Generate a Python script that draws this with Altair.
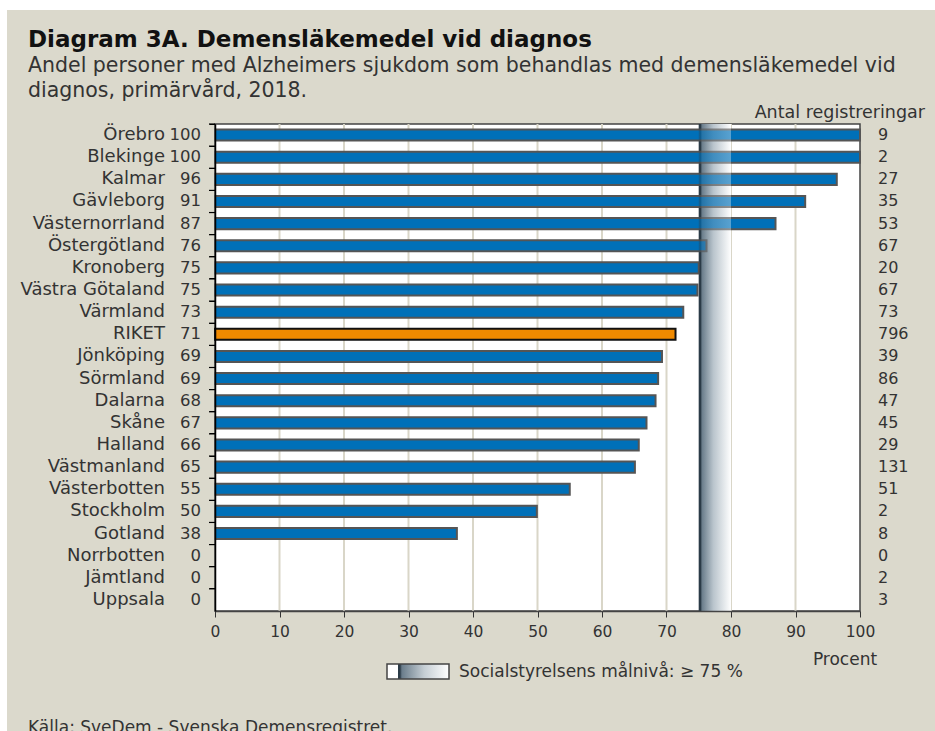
import altair as alt
import pandas as pd

names = ["Örebro", "Blekinge", "Kalmar", "Gävleborg", "Västernorrland", "Östergötland",
         "Kronoberg", "Västra Götaland", "Värmland", "RIKET", "Jönköping", "Sörmland",
         "Dalarna", "Skåne", "Halland", "Västmanland", "Västerbotten", "Stockholm",
         "Gotland", "Norrbotten", "Jämtland", "Uppsala"]
values = [100, 100, 96.4, 91.5, 86.9, 76.2, 75.0, 74.8, 72.6, 71.4, 69.3, 68.7,
          68.3, 66.9, 65.7, 65.1, 55.0, 49.9, 37.5, 0, 0, 0]
shown = [100, 100, 96, 91, 87, 76, 75, 75, 73, 71, 69, 69, 68, 67, 66, 65, 55, 50, 38, 0, 0, 0]
counts = [9, 2, 27, 35, 53, 67, 20, 67, 73, 796, 39, 86, 47, 45, 29, 131, 51, 2, 8, 0, 2, 3]
x_ticks = [0, 10, 20, 30, 40, 50, 60, 70, 80, 90, 100]
grid_ticks = [10, 20, 30, 40, 50, 60, 70, 80, 90]
target = [75]
target_end = [80]

FONT = "DejaVu Sans"
TXT = "#333333"
BEIGE = "#dbd9cc"

df = pd.DataFrame({"name": names, "value": values, "shown": shown, "count": counts})
df["riket"] = df["name"] == "RIKET"
one = pd.DataFrame({"k": [0]})
grid_df = pd.DataFrame({"g": grid_ticks})
band_df = pd.DataFrame({"a": target, "b": target_end})

xscale = alt.Scale(domain=[0, 100], nice=False, zero=True)
yscale = alt.Scale(paddingInner=0, paddingOuter=0)
ysort = names

xaxis = alt.Axis(values=x_ticks, grid=False, title=None, labelFont=FONT,
                 labelFontSize=15.5, labelColor=TXT, tickSize=6, tickColor="#333333",
                 domainColor="#444444", domainWidth=1.5, labelPadding=7, zindex=1,
                 labelFlush=False)
yaxis = alt.Axis(labels=False, title=None, domainColor="black", domainWidth=1.5,
                 ticks=True, tickColor="black", tickSize=6, bandPosition=0, zindex=1,
                 grid=False)

band_grad = alt.LinearGradient(
    gradient="linear", x1=0, x2=1, y1=0, y2=0,
    stops=[alt.GradientStop(color="#2b3b47", offset=0),
           alt.GradientStop(color="#2b3b47", offset=0.06),
           alt.GradientStop(color="#6a7d8b", offset=0.1),
           alt.GradientStop(color="#b9c4cc", offset=0.45),
           alt.GradientStop(color="#ffffff", offset=1)])
legend_grad = alt.LinearGradient(
    gradient="linear", x1=0, x2=1, y1=0, y2=0,
    stops=[alt.GradientStop(color="#ffffff", offset=0),
           alt.GradientStop(color="#ffffff", offset=0.17),
           alt.GradientStop(color="#2b3b47", offset=0.18),
           alt.GradientStop(color="#2b3b47", offset=0.21),
           alt.GradientStop(color="#6a7d8b", offset=0.24),
           alt.GradientStop(color="#c5ced4", offset=0.6),
           alt.GradientStop(color="#ffffff", offset=1)])

bg = alt.Chart(one).mark_rect(fill=BEIGE).encode(
    x=alt.value(-208), x2=alt.value(720), y=alt.value(-114), y2=alt.value(607))
plot_bg = alt.Chart(one).mark_rect(fill="white", stroke="#444444", strokeWidth=1.5).encode(
    x=alt.value(0), x2=alt.value(645), y=alt.value(0), y2=alt.value(487))

grid = alt.Chart(grid_df).mark_rule(color="#d9d6c8", strokeWidth=2).encode(
    x=alt.X("g:Q", scale=xscale, axis=xaxis))

band = alt.Chart(band_df).mark_rect(fill=band_grad).encode(
    x=alt.X("a:Q", scale=xscale, axis=xaxis), x2="b:Q")
band_over = alt.Chart(band_df).mark_rect(fill=band_grad, opacity=0.35).encode(
    x=alt.X("a:Q", scale=xscale, axis=xaxis), x2="b:Q")

bars = alt.Chart(df).transform_filter("datum.value > 0").mark_bar(
    height=alt.RelativeBandSize(0.5), strokeWidth=2).encode(
    x=alt.X("value:Q", scale=xscale, axis=xaxis),
    y=alt.Y("name:N", sort=ysort, scale=yscale, axis=yaxis),
    fill=alt.condition("datum.riket", alt.value("#f08a00"), alt.value("#0070b8")),
    stroke=alt.condition("datum.riket", alt.value("#111111"), alt.value("#555555")),
)

# left-axis tick marks at the row boundaries
row_ticks = alt.Chart(df).mark_rule(color="black", strokeWidth=1.2).encode(
    y=alt.Y("name:N", sort=ysort, scale=yscale, axis=yaxis, bandPosition=0),
    x=alt.value(-6), x2=alt.value(0))

name_txt = alt.Chart(df).mark_text(align="right", baseline="middle", font=FONT,
                                    fontSize=18, color=TXT).encode(
    y=alt.Y("name:N", sort=ysort, scale=yscale, axis=yaxis), x=alt.value(-50), text="name:N")
val_txt = alt.Chart(df).mark_text(align="right", baseline="middle", font=FONT,
                                   fontSize=16.5, color=TXT).encode(
    y=alt.Y("name:N", sort=ysort, scale=yscale, axis=yaxis), x=alt.value(-14), text="shown:Q")
cnt_txt = alt.Chart(df).mark_text(align="left", baseline="middle", font=FONT,
                                   fontSize=16, color=TXT).encode(
    y=alt.Y("name:N", sort=ysort, scale=yscale, axis=yaxis), x=alt.value(663), text="count:Q")


def label(txt, x, y, size=17, align="left", weight="normal", color=TXT):
    return alt.Chart(one).mark_text(align=align, baseline="alphabetic", font=FONT,
                                    fontSize=size, fontWeight=weight, color=color).encode(
        x=alt.value(x), y=alt.value(y), text=alt.value(txt))


title = label("Diagram 3A. Demensläkemedel vid diagnos", -187, -77, size=23, weight="bold",
              color="#111111")
sub1 = label("Andel personer med Alzheimers sjukdom som behandlas med demensläkemedel vid",
             -187, -52, size=20.5)
sub2 = label("diagnos, primärvård, 2018.", -187, -27, size=20.5)
antal = label("Antal registreringar", 710, -6, size=17.5, align="right")
procent = label("Procent", 630, 541, size=17, align="center")
leg_txt = label("Socialstyrelsens målnivå: ≥ 75 %", 244, 553, size=17)
source = label("Källa: SveDem - Svenska Demensregistret.", -187, 609, size=17)

leg_box = alt.Chart(one).mark_rect(fill=legend_grad, stroke="#444444", strokeWidth=1.5).encode(
    x=alt.value(172), x2=alt.value(234), y=alt.value(540), y2=alt.value(555))

chart = alt.layer(
    bg, plot_bg, grid, band, bars, band_over, row_ticks, name_txt, val_txt, cnt_txt,
    title, sub1, sub2, antal, procent, leg_box, leg_txt, source
).properties(
    width=645, height=487,
    autosize=alt.AutoSizeParams(type="none"),
    padding={"left": 215, "top": 124, "right": 75, "bottom": 120},
    background="white",
).configure_view(stroke=None)

chart.save("out.html", embed_options={"renderer": "svg", "actions": False})
